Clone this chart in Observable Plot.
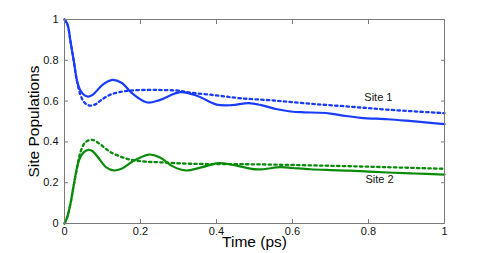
<!DOCTYPE html>
<html>
<head>
<meta charset="utf-8">
<script src="https://cdn.jsdelivr.net/npm/d3@7"></script>
<script src="https://cdn.jsdelivr.net/npm/@observablehq/plot@0.6"></script>
<style>
  html, body { margin: 0; padding: 0; background: #fff; }
  #chart svg { display: block; }
</style>
</head>
<body>
<div id="chart"></div>
<script>
// Site 1, solid (full model)
const site1SolidT = [0, 0.008, 0.016, 0.025, 0.033, 0.042, 0.053, 0.063, 0.075, 0.10, 0.126, 0.15, 0.18, 0.218, 0.25, 0.305, 0.35, 0.40, 0.44, 0.485, 0.52, 0.56, 0.595, 0.63, 0.67, 0.70, 0.74, 0.78, 0.85, 0.90, 0.95, 1.0];
const site1SolidV = [1.0, 0.975, 0.89, 0.79, 0.70, 0.652, 0.628, 0.622, 0.632, 0.68, 0.704, 0.69, 0.635, 0.593, 0.605, 0.644, 0.625, 0.583, 0.580, 0.590, 0.579, 0.560, 0.549, 0.545, 0.543, 0.539, 0.527, 0.518, 0.511, 0.504, 0.496, 0.487];
// Site 1, dotted
const site1DotT = [0, 0.008, 0.016, 0.025, 0.033, 0.042, 0.05, 0.06, 0.071, 0.085, 0.095, 0.121, 0.165, 0.22, 0.26, 0.30, 0.33, 0.40, 0.463, 0.55, 0.647, 0.75, 0.85, 1.0];
const site1DotV = [1.0, 0.975, 0.89, 0.79, 0.695, 0.63, 0.598, 0.582, 0.578, 0.588, 0.603, 0.632, 0.650, 0.655, 0.654, 0.651, 0.642, 0.628, 0.614, 0.603, 0.587, 0.573, 0.558, 0.541];
// Site 2, solid
const site2SolidT = [0, 0.007, 0.016, 0.025, 0.038, 0.051, 0.064, 0.075, 0.09, 0.11, 0.13, 0.15, 0.18, 0.222, 0.25, 0.285, 0.318, 0.36, 0.405, 0.45, 0.507, 0.568, 0.60, 0.647, 0.70, 0.75, 0.80, 0.85, 0.92, 1.0];
const site2SolidV = [0, 0.03, 0.10, 0.195, 0.31, 0.35, 0.361, 0.353, 0.32, 0.275, 0.26, 0.268, 0.305, 0.338, 0.325, 0.28, 0.26, 0.275, 0.296, 0.285, 0.265, 0.276, 0.272, 0.266, 0.262, 0.259, 0.254, 0.250, 0.245, 0.24];
// Site 2, dotted
const site2DotT = [0, 0.007, 0.016, 0.025, 0.035, 0.042, 0.055, 0.073, 0.095, 0.121, 0.165, 0.208, 0.25, 0.33, 0.5, 0.674, 0.85, 1.0];
const site2DotV = [0, 0.03, 0.10, 0.195, 0.29, 0.35, 0.398, 0.41, 0.387, 0.35, 0.317, 0.304, 0.30, 0.293, 0.29, 0.284, 0.276, 0.268];

const xTicks = [0, 0.2, 0.4, 0.6, 0.8, 1];
const yTicks = [0, 0.2, 0.4, 0.6, 0.8, 1];
const labelText = ["Site 1", "Site 2"];
const labelT = [0.826, 0.829];
const labelV = [0.618, 0.216];
const xTitle = "Time (ps)";
const yTitle = "Site Populations";

const blue = "#1a3cfc";
const green = "#0a8c0a";

const zip = (T, V) => T.map((t, i) => ({t, v: V[i]}));
const s1s = zip(site1SolidT, site1SolidV);
const s1d = zip(site1DotT, site1DotV);
const s2s = zip(site2SolidT, site2SolidV);
const s2d = zip(site2DotT, site2DotV);
const labels = labelText.map((s, i) => ({s, t: labelT[i], v: labelV[i]}));

const fmt = d => d === 0 ? "0" : d === 1 ? "1" : String(d);
const curve = "catmull-rom";

const chart = Plot.plot({
  width: 491,
  height: 253,
  marginLeft: 64,
  marginRight: 47,
  marginTop: 19,
  marginBottom: 30,
  style: {fontFamily: "'Liberation Sans', Arial, sans-serif", fontSize: "11px", color: "#111", background: "#fff"},
  x: {domain: [0, 1]},
  y: {domain: [0, 1]},
  marks: [
    Plot.line(s1d, {x: "t", y: "v", stroke: blue, strokeWidth: 2.3, strokeDasharray: "2.5,3.2", curve}),
    Plot.line(s2d, {x: "t", y: "v", stroke: green, strokeWidth: 2.3, strokeDasharray: "2.5,3.2", curve}),
    Plot.line(s1s, {x: "t", y: "v", stroke: blue, strokeWidth: 2.2, curve}),
    Plot.line(s2s, {x: "t", y: "v", stroke: green, strokeWidth: 2.2, curve}),
    Plot.text(labels, {x: "t", y: "v", text: "s", fontSize: 11, fill: "#111"}),
    Plot.frame({stroke: "#7a7a7a", strokeWidth: 1}),
    // inward ticks
    Plot.axisX(xTicks, {anchor: "bottom", tickSize: -4, text: null, label: null, stroke: "#7a7a7a"}),
    Plot.axisX(xTicks, {anchor: "top", tickSize: -4, text: null, label: null, stroke: "#7a7a7a"}),
    Plot.axisY(yTicks, {anchor: "left", tickSize: -4, text: null, label: null, stroke: "#7a7a7a"}),
    Plot.axisY(yTicks, {anchor: "right", tickSize: -4, text: null, label: null, stroke: "#7a7a7a"}),
    // tick labels
    Plot.axisX(xTicks, {anchor: "bottom", tickSize: 0, tickPadding: 4, tickFormat: fmt, label: null, fontSize: 11}),
    Plot.axisY(yTicks, {anchor: "left", tickSize: 0, tickPadding: 6, tickFormat: fmt, label: null, fontSize: 11}),
    // axis titles
    Plot.text([xTitle], {frameAnchor: "bottom", dy: 23, fontSize: 15.5, fill: "#000"}),
    Plot.axisY(yTicks, {anchor: "left", tickSize: 0, text: null, label: yTitle, labelAnchor: "center", labelArrow: "none", labelOffset: 37, fontSize: 15.5, fill: "#000"})
  ]
});
document.getElementById("chart").appendChild(chart);
</script>
</body>
</html>
